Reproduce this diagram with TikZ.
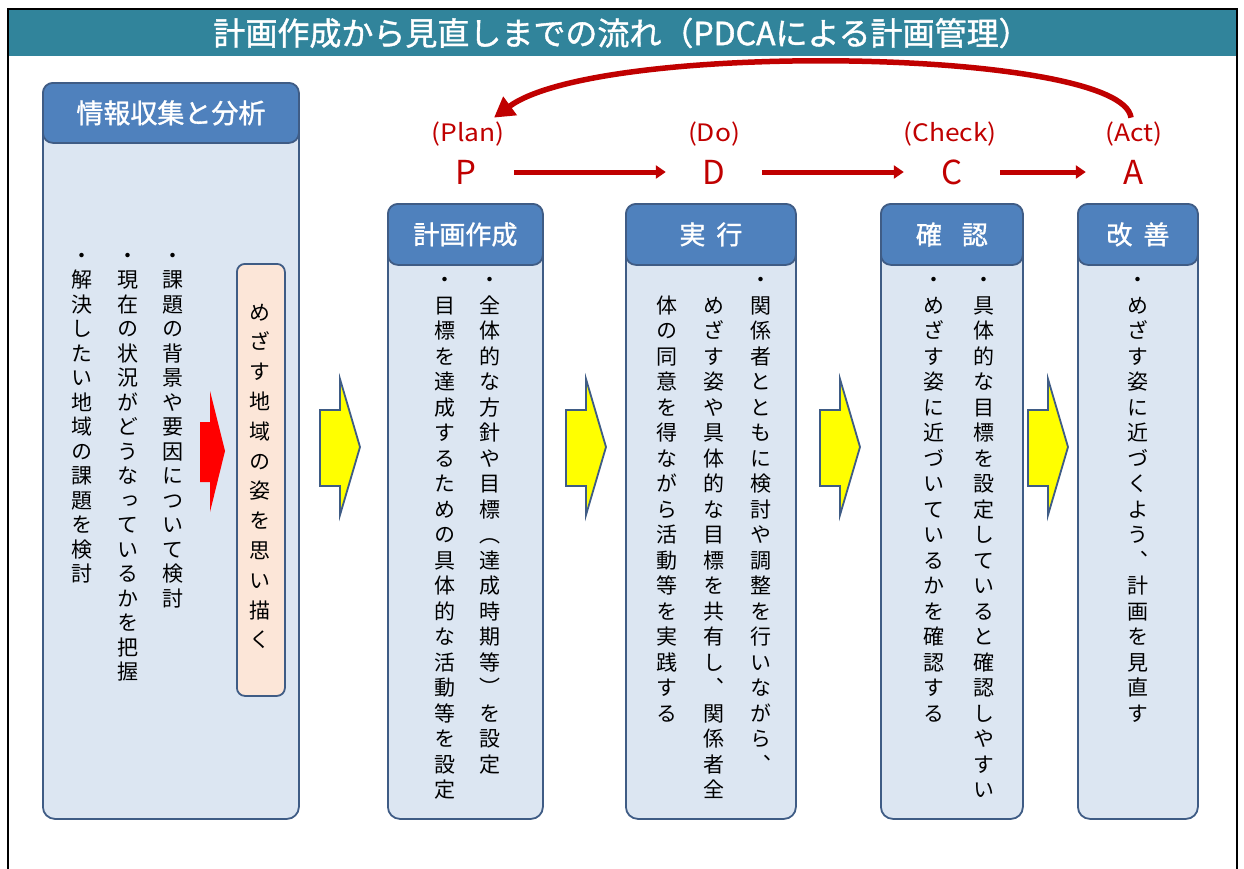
\documentclass[tikz,border=0pt]{standalone}
\usepackage{fontspec}
\usetikzlibrary{arrows.meta}
\newfontfamily\jp[RawFeature=+vert]{Noto Sans CJK JP}
\newfontfamily\jph{Noto Sans CJK JP}
\newfontfamily\jpm[FakeBold=1.2]{Noto Sans CJK JP}
\definecolor{titlebar}{HTML}{31849B}
\definecolor{headfill}{HTML}{4F81BD}
\definecolor{bodyfill}{HTML}{DCE6F2}
\definecolor{boxline}{HTML}{3F5C85}
\definecolor{peach}{HTML}{FCE6D8}
\definecolor{pdred}{HTML}{C00000}
\definecolor{yel}{HTML}{FFFF00}
\ExplSyntaxOn
\NewDocumentCommand \vtext { O{25.5pt} m }
  {
    \vbox
      {
        \offinterlineskip
        \tl_map_inline:nn {#2}
          {
            \hbox_to_wd:nn { 1.2em }
              {
                \hss
                \vbox_to_ht:nn {#1}
                  { \vss \hbox { \vrule height .88em depth .12em width 0pt ##1 } \vss }
                \hss
              }
          }
      }
  }
\ExplSyntaxOff
\tikzset{
  bodybox/.style={draw=boxline, line width=1.8pt, fill=bodyfill, rounded corners=12pt, inner sep=0pt, anchor=north west},
  headbox/.style={draw=boxline, line width=1.8pt, fill=headfill, rounded corners=10pt, inner sep=0pt, anchor=north west, text=white, font=\jpm\fontsize{26}{28}\selectfont},
  col/.style={anchor=north, inner sep=0pt, font=\jp\fontsize{21}{25}\selectfont},
  pdca/.style={text=pdred, inner sep=0pt, minimum width=96pt, font=\jph\fontsize{33}{33}\selectfont},
  pdlbl/.style={text=pdred, inner sep=0pt, font=\jph\fontsize{24}{24}\selectfont},
  pdline/.style={draw=pdred, line width=5pt, -{Triangle[length=10pt,width=13pt]}},
  yarr/.style={draw=boxline, line width=1.8pt, fill=yel, line join=miter},
}
\begin{document}
\begin{tikzpicture}[x=1pt,y=-1pt]
\useasboundingbox (0,0) rectangle (1244,868);
\fill[white] (0,0) rectangle (1244,868);
% title bar
\fill[titlebar] (9,10) rectangle (1236,55.5);
\node[text=white, inner sep=0pt, font=\jpm\fontsize{32}{33}\selectfont] (title) at (622,33) {計画作成から見直しまでの流れ（PDCAによる計画管理）};
\draw[line width=2.5pt] (8,870) -- (8,9) -- (1237,9) -- (1237,870);

% box 1
\node[bodybox, minimum width=256pt, minimum height=736pt] (info) at (42,82) {};
\node[headbox, minimum width=256pt, minimum height=60pt, font=\jpm\fontsize{27}{28}\selectfont] (infoh) at (42,82) {情報収集と分析};
\node[col] (i1) at (173,243) {\vtext[24.5pt]{・課題の背景や要因について検討}};
\node[col] (i2) at (128,243) {\vtext[24.5pt]{・現在の状況がどうなっているかを把握}};
\node[col] (i3) at (82,243) {\vtext[24.5pt]{・解決したい地域の課題を検討}};
\node[draw=boxline, fill=peach, line width=1.8pt, rounded corners=8pt, minimum width=48pt, minimum height=432pt, anchor=north west, inner sep=0pt] (goal) at (236,263) {};
\node[col] (goalt) at (260,297) {\vtext[29.8pt]{めざす地域の姿を思い描く}};
\fill[red] (200,422) -- (210,422) -- (210,391) -- (225,451) -- (210,512) -- (210,482) -- (200,482) -- cycle;

% box 2
\node[bodybox, minimum width=155pt, minimum height=615pt] (plan) at (387,203) {};
\node[headbox, minimum width=155pt, minimum height=61pt] (planh) at (387,203) {計画作成};
\node[col] (p1) at (490,267) {\vtext{・全体的な方針や目標（達成時期等）を設定}};
\node[col] (p2) at (445,267) {\vtext{・目標を達成するための具体的な活動等を設定}};

% box 3
\node[bodybox, minimum width=170pt, minimum height=615pt] (do) at (625,203) {};
\node[headbox, minimum width=170pt, minimum height=61pt] (doh) at (625,203) {実\hspace{11pt}行};
\node[col] (d1) at (761,267) {\vtext{・関係者とともに検討や調整を行いながら、}};
\node[col] (d2) at (714,292.5) {\vtext{めざす姿や具体的な目標を共有し、関係者全}};
\node[col] (d3) at (667,292.5) {\vtext{体の同意を得ながら活動等を実践する}};

% box 4
\node[bodybox, minimum width=142pt, minimum height=615pt] (check) at (880,203) {};
\node[headbox, minimum width=142pt, minimum height=61pt] (checkh) at (880,203) {確\hspace{20pt}認};
\node[col] (c1) at (984,267) {\vtext{・具体的な目標を設定していると確認しやすい}};
\node[col] (c2) at (934,267) {\vtext{・めざす姿に近づいているかを確認する}};

% box 5
\node[bodybox, minimum width=120pt, minimum height=615pt] (act) at (1077,203) {};
\node[headbox, minimum width=120pt, minimum height=61pt] (acth) at (1077,203) {改\hspace{11pt}善};
\node[col] (a1) at (1138,267) {\vtext{・めざす姿に近づくよう、計画を見直す}};

% yellow arrows
\foreach \x in {320,566,820,1028}{
  \draw[yarr] (\x,410) -- (\x+20,410) -- (\x+20,379) -- (\x+40,447) -- (\x+20,515) -- (\x+20,486) -- (\x,486) -- cycle;
}

% PDCA
\node[pdlbl] (planl) at (468,134) {\scalebox{1.1}[1]{(Plan)}};
\node[pdlbl] (dol) at (714,134) {\scalebox{1.1}[1]{(Do)}};
\node[pdlbl] (checkl) at (950,134) {\scalebox{1.1}[1]{(Check)}};
\node[pdlbl] (actl) at (1134,134) {\scalebox{1.1}[1]{(Act)}};
\node[pdca] (P) at (466,172) {P};
\node[pdca] (D) at (714,172) {D};
\node[pdca] (C) at (952,172) {C};
\node[pdca] (A) at (1134,172) {A};
\draw[pdline] (P) -- (D);
\draw[pdline] (D) -- (C);
\draw[pdline] (C) -- (A);
\draw[draw=pdred, line width=5.5pt, -{Triangle[length=20pt,width=22pt]}] ([xshift=-3pt,yshift=4pt]actl.north) .. controls (1122,48) and (600,40) .. ([xshift=26pt,yshift=4pt]planl.north);
\end{tikzpicture}
\end{document}
